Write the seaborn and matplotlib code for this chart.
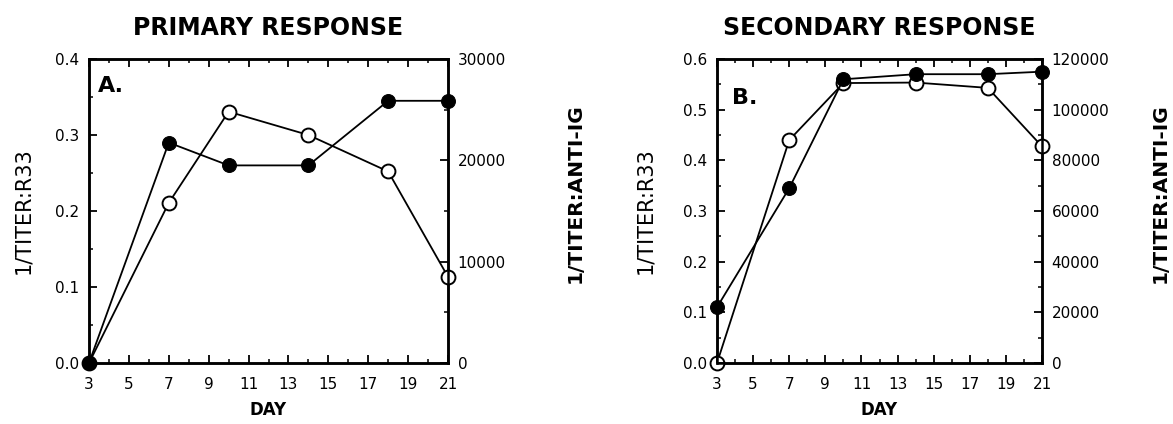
import numpy as np
import pandas as pd
import matplotlib
matplotlib.use("Agg")
import matplotlib.pyplot as plt
from matplotlib.ticker import MultipleLocator, FixedLocator
import seaborn as sns

sns.set_theme(style="white")
plt.rcParams['font.family'] = ['DejaVu Sans']
plt.rcParams['text.color'] = 'black'
plt.rcParams['axes.labelcolor'] = 'black'
plt.rcParams['xtick.color'] = 'black'
plt.rcParams['ytick.color'] = 'black'

days = [3, 7, 10, 14, 18, 21]
# Panel A (primary response)
a_r33 = [0.0, 0.29, 0.26, 0.26, 0.345, 0.345]          # filled circles, left axis
a_antiig = [0, 15800, 24800, 22500, 18900, 8500]         # open circles, right axis
# Panel B (secondary response)
b_r33 = [0.11, 0.345, 0.56, 0.57, 0.57, 0.575]
b_antiig = [0, 88000, 110500, 110700, 108600, 85500]

x_ticks = [3, 5, 7, 9, 11, 13, 15, 17, 19, 21]

fig = plt.figure(figsize=(11.73, 4.24), dpi=100)
W, H = 1173, 424

def make_panel(left, right, top, bottom, r33, anti, ymax_l, ymax_r, title, letter,
               letter_pos, lab_l, lab_r):
    ax = fig.add_axes([left / W, 1 - bottom / H, (right - left) / W, (bottom - top) / H])
    ax2 = ax.twinx()
    df = pd.DataFrame({"day": days, "r33": r33, "anti": anti})
    sns.lineplot(data=df, x="day", y="anti", ax=ax2, color="black", lw=1.3,
                 marker="o", markersize=10, markerfacecolor="white",
                 markeredgecolor="black", markeredgewidth=1.4, clip_on=False, zorder=3)
    sns.lineplot(data=df, x="day", y="r33", ax=ax, color="black", lw=1.3,
                 marker="o", markersize=10, markerfacecolor="black",
                 markeredgecolor="black", clip_on=False, zorder=3)
    ax.set_xlim(3, 21)
    ax.set_ylim(0, ymax_l)
    ax2.set_ylim(0, ymax_r)
    ax.set_zorder(ax2.get_zorder() + 1)
    ax.patch.set_visible(False)
    ax.xaxis.set_major_locator(FixedLocator(x_ticks))
    ax.xaxis.set_minor_locator(MultipleLocator(1))
    ax.yaxis.set_major_locator(MultipleLocator(0.1))
    ax.yaxis.set_minor_locator(MultipleLocator(0.05))
    step_r = ymax_r / (3 if ymax_r == 30000 else 6)
    ax2.yaxis.set_major_locator(MultipleLocator(step_r))
    ax2.yaxis.set_minor_locator(MultipleLocator(step_r / 2))
    ax.set_yticklabels([f"{v:.1f}" for v in ax.get_yticks()])
    ax2.set_yticklabels([f"{int(v)}" for v in ax2.get_yticks()])
    for a in (ax, ax2):
        for s in a.spines.values():
            s.set_color("black")
            s.set_linewidth(1.8)
    ax.tick_params(axis="x", which="both", direction="in", top=True, bottom=True,
                   labelsize=11, pad=10)
    ax.tick_params(axis="y", which="both", direction="in", left=True, right=False,
                   labelsize=11, pad=7)
    ax.tick_params(which="major", length=6, width=1.3)
    ax.tick_params(which="minor", length=3, width=1.1)
    ax2.tick_params(axis="y", which="both", direction="in", right=True,
                    labelsize=11, pad=7)
    ax2.tick_params(which="major", length=6, width=1.3)
    ax2.tick_params(which="minor", length=3, width=1.1)
    ax.set_xlabel("DAY", fontsize=12, fontweight="bold")
    ax.xaxis.set_label_coords(0.5, -(410 - bottom) / (bottom - top))
    ax.xaxis.label.set_verticalalignment("center")
    ax.set_ylabel("1/TITER:R33", fontsize=15)
    ax.yaxis.set_label_coords(lab_l, 0.5)
    ax.yaxis.label.set_verticalalignment("center")
    ax2.set_ylabel("1/TITER:ANTI-IG", fontsize=14.5, fontweight="bold")
    ax2.yaxis.set_label_coords(lab_r, 0.56)
    ax2.yaxis.label.set_verticalalignment("center")
    fig.text((left + right) / 2 / W, 1 - 35 / H, title, fontsize=17, fontweight="bold",
             ha="center", va="baseline")
    ax.text(letter_pos[0], letter_pos[1], letter, transform=ax.transAxes, fontsize=16,
            fontweight="bold", va="baseline", ha="left")
    return ax, ax2

make_panel(89, 448, 59, 363, a_r33, a_antiig, 0.4, 30000, "PRIMARY RESPONSE", "A.",
           (0.025, 0.893), (23 - 89) / 359, (575 - 89) / 359)
make_panel(717, 1042, 59, 363, b_r33, b_antiig, 0.6, 120000, "SECONDARY RESPONSE", "B.",
           (0.046, 0.851), (645 - 717) / 325, (1160 - 717) / 325)

fig.savefig("out.png", dpi=100)
